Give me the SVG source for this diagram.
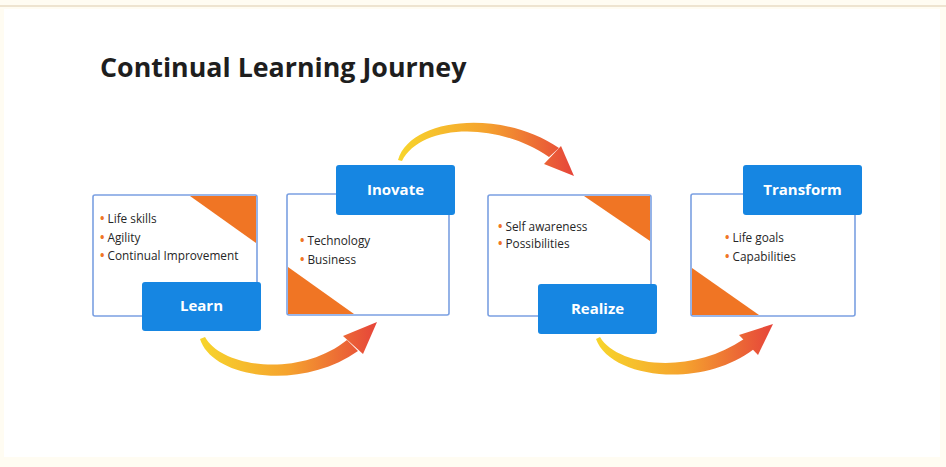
<svg xmlns="http://www.w3.org/2000/svg" width="946" height="467" viewBox="0 0 946 467">
  <style>
    .title { font-family: "Open Sans", "Liberation Sans", sans-serif; font-weight: 700; font-size: 26.8px; fill: #1e1e1e; }
    .card { fill: #ffffff; stroke: #7ba0e2; stroke-width: 1.6; }
    .corner { fill: #f07524; }
    .btn { fill: #1686e2; }
    .btn-label { font-family: "Open Sans", "Liberation Sans", sans-serif; font-weight: 700; font-size: 15px; fill: #ffffff; text-anchor: middle; }
    .item { font-family: "Open Sans", "Liberation Sans", sans-serif; font-size: 11.8px; fill: #262626; }
    .dot { fill: #f07524; font-weight: 700; }
  </style>
  <defs>
    <linearGradient id="flow1" gradientUnits="userSpaceOnUse" x1="200" y1="0" x2="377" y2="0">
      <stop offset="0" stop-color="#f7d52c"/>
      <stop offset="0.5" stop-color="#f5a22e"/>
      <stop offset="1" stop-color="#e6443a"/>
    </linearGradient>
    <linearGradient id="flow2" gradientUnits="userSpaceOnUse" x1="398" y1="0" x2="574" y2="0">
      <stop offset="0" stop-color="#f7d52c"/>
      <stop offset="0.5" stop-color="#f5a22e"/>
      <stop offset="1" stop-color="#e6443a"/>
    </linearGradient>
    <linearGradient id="flow3" gradientUnits="userSpaceOnUse" x1="596" y1="0" x2="773" y2="0">
      <stop offset="0" stop-color="#f7d52c"/>
      <stop offset="0.5" stop-color="#f5a22e"/>
      <stop offset="1" stop-color="#e6443a"/>
    </linearGradient>
  </defs>

  <!-- page -->
  <rect x="0" y="0" width="946" height="467" fill="#fffcf2"/>
  <rect x="4" y="9" width="936" height="448" fill="#ffffff"/>
  <line x1="0" y1="6" x2="946" y2="6" stroke="#e9dcc4" stroke-width="1.5"/>

  <text class="title" x="100" y="77">Continual Learning Journey</text>

  <!-- connectors -->
  <g id="connectors">
    <g id="arrow-learn-inovate" fill="url(#flow1)">
      <path d="M205,337 C222,368 300,378 347,340 L358,351 C300,392 212,378 200,339 Z"/>
      <path d="M343,336 L377,322 L363,354 Z"/>
    </g>
    <g id="arrow-inovate-realize" fill="url(#flow2)">
      <path d="M398,160 C410,118 500,108 559,148 L549,157 C495,120 420,125 402,161 Z"/>
      <path d="M544,164 L561,146 L574,176 Z"/>
    </g>
    <g id="arrow-realize-transform" fill="url(#flow3)">
      <path d="M600,337 C617,366 690,376 744,339 L754,349 C700,390 610,378 596,339 Z"/>
      <path d="M739,335 L773,324 L758,355 Z"/>
    </g>
  </g>

  <!-- Learn -->
  <g id="learn">
    <rect class="card" x="93" y="195" width="164" height="121" rx="2"/>
    <path class="corner" d="M190,196 L256,196 L256,243 Z"/>
    <text class="item" x="100" y="223"><tspan class="dot">•</tspan> Life skills</text>
    <text class="item" x="100" y="242"><tspan class="dot">•</tspan> Agility</text>
    <text class="item" x="100" y="260"><tspan class="dot">•</tspan> Continual Improvement</text>
    <rect class="btn" x="142" y="282" width="119" height="49" rx="3"/>
    <text class="btn-label" x="201.5" y="311">Learn</text>
  </g>

  <!-- Inovate -->
  <g id="inovate">
    <rect class="card" x="287" y="194" width="162" height="121" rx="2"/>
    <path class="corner" d="M288,267 L288,314 L354,314 Z"/>
    <text class="item" x="300" y="245"><tspan class="dot">•</tspan> Technology</text>
    <text class="item" x="300" y="264"><tspan class="dot">•</tspan> Business</text>
    <rect class="btn" x="336" y="165" width="119" height="50" rx="3"/>
    <text class="btn-label" x="395.5" y="195">Inovate</text>
  </g>

  <!-- Realize -->
  <g id="realize">
    <rect class="card" x="488" y="195" width="163" height="121" rx="2"/>
    <path class="corner" d="M584,196 L650,196 L650,241 Z"/>
    <text class="item" x="498" y="231"><tspan class="dot">•</tspan> Self awareness</text>
    <text class="item" x="498" y="248"><tspan class="dot">•</tspan> Possibilities</text>
    <rect class="btn" x="538" y="284" width="119" height="50" rx="3"/>
    <text class="btn-label" x="597.5" y="314">Realize</text>
  </g>

  <!-- Transform -->
  <g id="transform">
    <rect class="card" x="691" y="194" width="164" height="122" rx="2"/>
    <path class="corner" d="M692,268 L692,315 L759,315 Z"/>
    <text class="item" x="725" y="242"><tspan class="dot">•</tspan> Life goals</text>
    <text class="item" x="725" y="261"><tspan class="dot">•</tspan> Capabilities</text>
    <rect class="btn" x="743" y="165" width="119" height="50" rx="3"/>
    <text class="btn-label" x="802.5" y="195">Transform</text>
  </g>
</svg>
